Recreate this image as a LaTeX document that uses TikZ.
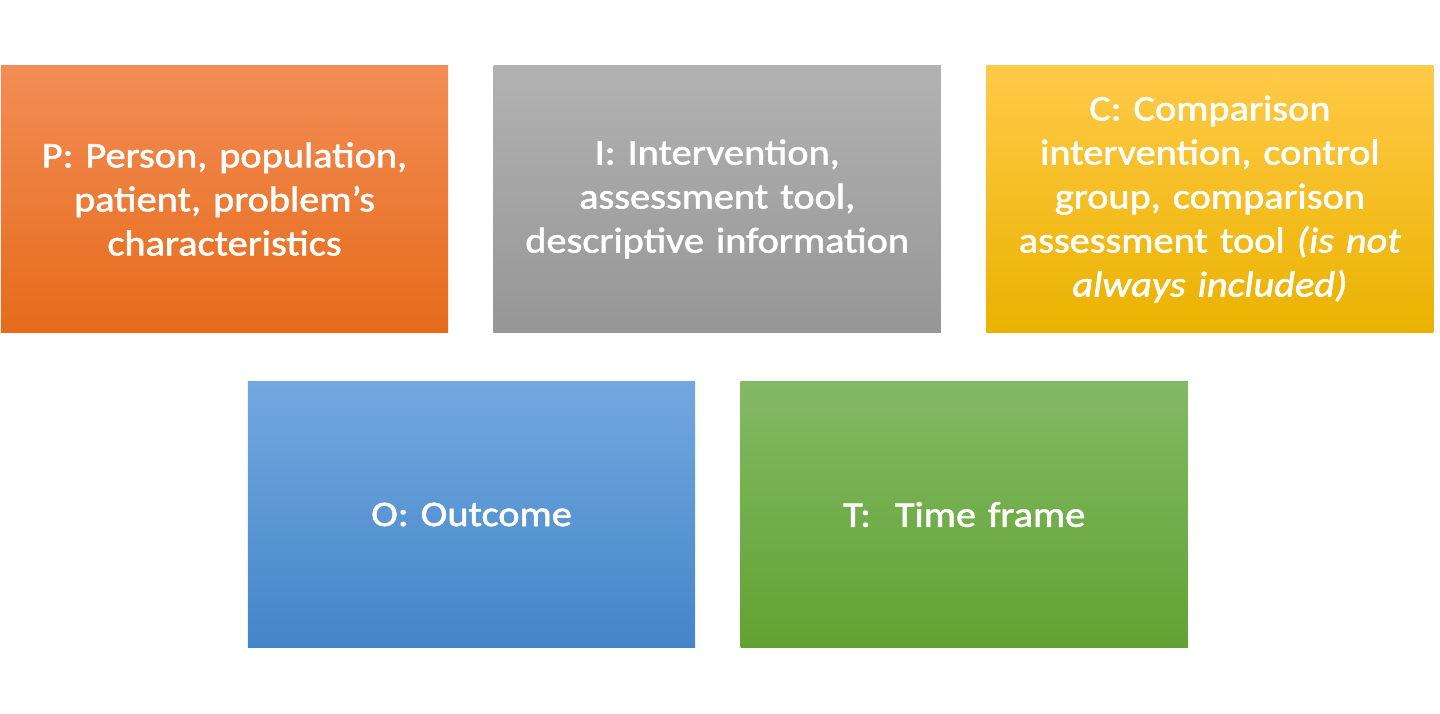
\documentclass[tikz,border=0pt]{standalone}
\usepackage{fontspec}
\setmainfont{Carlito}[FakeStretch=1.12, FakeBold=1.6]
\usetikzlibrary{positioning}

\definecolor{ptop}{HTML}{F28D55}
\definecolor{pbot}{HTML}{E66B1B}
\definecolor{itop}{HTML}{B2B2B2}
\definecolor{ibot}{HTML}{969696}
\definecolor{ctop}{HTML}{FFCA48}
\definecolor{cbot}{HTML}{EAB200}
\definecolor{otop}{HTML}{72A8DF}
\definecolor{obot}{HTML}{4485C8}
\definecolor{ttop}{HTML}{83B965}
\definecolor{tbot}{HTML}{62A232}

\begin{document}
\begin{tikzpicture}[
  x=0.025cm, y=-0.025cm,
  node distance=1.225cm and 1.125cm,
  every node/.style={rectangle, align=center, text=white, inner sep=0pt,
    minimum width=11.175cm, minimum height=6.65cm, text width=10.8cm,
    font=\fontsize{25.6}{31.3}\selectfont},
  pbox/.style={top color=ptop, bottom color=pbot},
  ibox/.style={top color=itop, bottom color=ibot},
  cbox/.style={top color=ctop, bottom color=cbot},
  obox/.style={top color=otop, bottom color=obot},
  tbox/.style={top color=ttop, bottom color=tbot}
]

\useasboundingbox (0,0) rectangle (1440,714);

% Top row
\node[pbox] (person) at (224.5,199) {P: Person, population,\\patient, problem’s\\characteristics};
\node[ibox] (intervention) [right=of person] {I: Intervention,\\assessment tool,\\descriptive information};
\node[cbox] (comparison) [right=of intervention] {C: Comparison\\intervention, control\\group, comparison\\assessment tool \textit{(is not}\\\textit{always included)}};

% Bottom row
\node[obox] (outcome) at (471.5,514.5) {O: Outcome};
\node[tbox] (timeframe) [right=of outcome] {T:\ \ Time frame};

\end{tikzpicture}
\end{document}
